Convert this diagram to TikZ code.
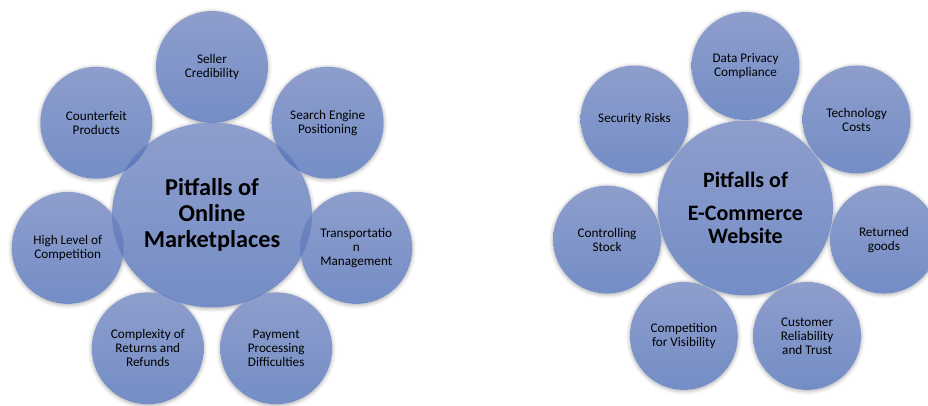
\documentclass[tikz,border=0pt]{standalone}
\usepackage{fontspec}
\setmainfont{Carlito}
\usetikzlibrary{calc,shapes.geometric,shadows.blur,backgrounds}

\definecolor{bubbletop}{RGB}{114,134,192}
\definecolor{bubblebottom}{RGB}{82,113,184}

\tikzset{
	bubble/.style={circle, inner sep=0pt, align=center,
		top color=bubbletop, bottom color=bubblebottom,
		fill opacity=0.8, text opacity=1,
		font=\fontsize{13.2}{14}\selectfont},
	hub/.style={bubble, font=\fontsize{24.3}{26}\selectfont\bfseries},
	halo/.style={blur shadow={shadow xshift=0pt, shadow yshift=-1pt,
		shadow blur radius=4pt, shadow opacity=35}}
}

\begin{document}
\begin{tikzpicture}[x=1pt,y=1pt]
	\useasboundingbox (0,0) rectangle (928,405);
	% online marketplaces
	\node[hub, ellipse, minimum width=200pt, minimum height=185pt] (om) at (212,190)
		{Pitfalls of\\Online\\Marketplaces};
	\foreach \k/\txt in
	{0/{Seller\\Credibility},
	1/{Search Engine\\Positioning},
	2/{Transportatio\\n\\Management},
	3/{Payment\\Processing\\Difficulties},
	4/{Complexity of\\Returns and\\Refunds},
	5/{High Level of\\Competition},
	6/{Counterfeit\\Products}}
		{\node[bubble, minimum size=112pt] (om-\k) at ($(om.center)+({90-\k*360/7}:148)$) {\txt};}
	% e-commerce website
	\node[hub, minimum size=175pt, font=\fontsize{22}{23}\selectfont\bfseries] (ec) at (745.5,197)
		{Pitfalls of\\[10pt]E-Commerce\\Website};
	\foreach \k/\txt in
	{0/{Data Privacy\\Compliance},
	1/{Technology\\Costs},
	2/{Returned\\goods},
	3/{Customer\\Reliability\\and Trust},
	4/{Competition\\for Visibility},
	5/{Controlling\\Stock},
	6/{Security Risks}}
		{\node[bubble, minimum size=108pt] (ec-\k) at ($(ec.center)+({90-\k*360/7}:142)$) {\txt};}
	% soft halos
	\begin{scope}[on background layer]
		\path[halo] (om.center) ellipse [x radius=100, y radius=92.5];
		\path[halo] (ec.center) circle [radius=87.5];
		\foreach \k in {0,...,6}
			{\path[halo] (om-\k.center) circle [radius=56];
			\path[halo] (ec-\k.center) circle [radius=54];}
		\fill[white] (om.center) ellipse [x radius=100, y radius=92.5];
		\fill[white] (ec.center) circle [radius=87.5];
		\foreach \k in {0,...,6}
			{\fill[white] (om-\k.center) circle [radius=56];
			\fill[white] (ec-\k.center) circle [radius=54];}
	\end{scope}
\end{tikzpicture}
\end{document}
